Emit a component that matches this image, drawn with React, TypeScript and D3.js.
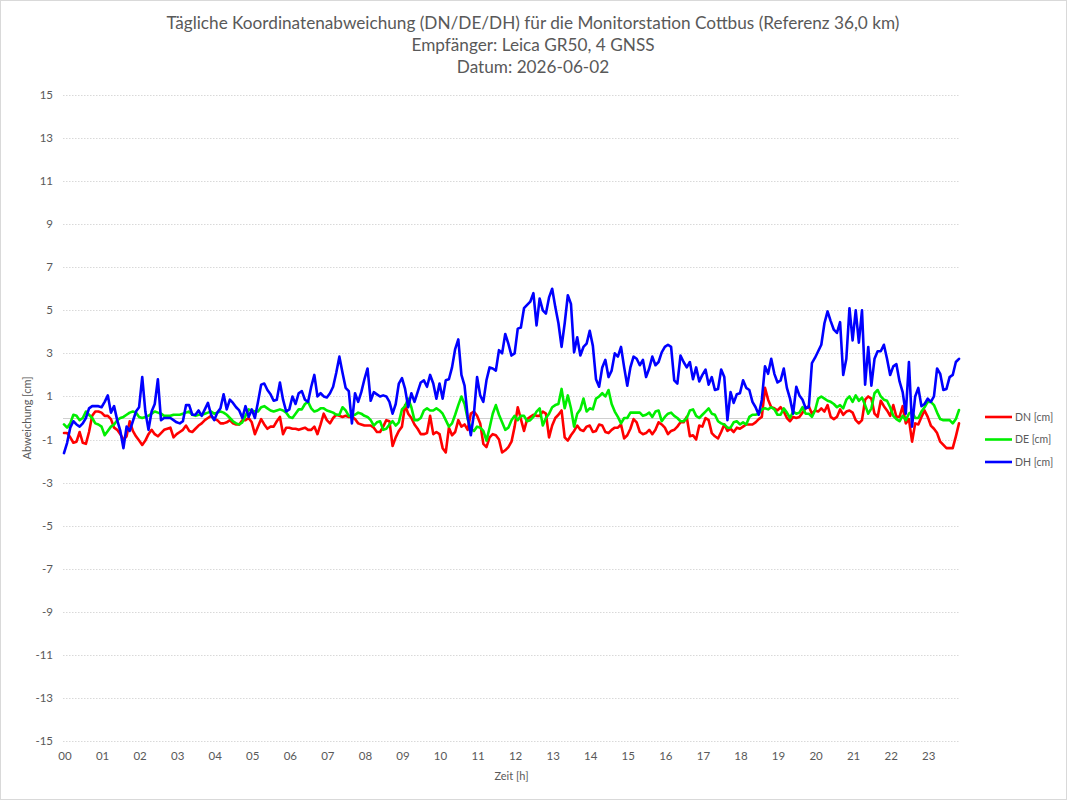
import * as d3 from 'd3';

const WIDTH = 1068;
const HEIGHT = 801;
const PLOT = { left: 64, right: 959, top: 95, bottom: 741 };
const FONT = "Lato, 'Open Sans', sans-serif";
const TEXT_COLOR = '#595959';
const GRID_COLOR = '#d9d9d9';

const TITLE_LINES = [
  'Tägliche Koordinatenabweichung (DN/DE/DH) für die Monitorstation Cottbus (Referenz 36,0 km)',
  'Empfänger: Leica GR50, 4 GNSS',
  'Datum: 2026-06-02',
];

const HOUR_LABELS = [
  '00', '01', '02', '03', '04', '05', '06', '07', '08', '09', '10', '11',
  '12', '13', '14', '15', '16', '17', '18', '19', '20', '21', '22', '23',
];
const Y_TICKS = [15, 13, 11, 9, 7, 5, 3, 1, -1, -3, -5, -7, -9, -11, -13, -15];

// one sample every 5 minutes, starting 00:00
const STEP_MIN = 5;

const DN = [
  -0.7, -0.7, -0.9, -1.15, -1.1, -0.65, -1.15, -1.2, -0.65, 0.1,
  0.3, 0.3, 0.25, 0.1, 0.1, -0.05, -0.45, -0.55, -0.75, -1.0,
  -0.85, -0.15, -0.6, -0.85, -1.05, -1.25, -1.05, -0.75, -0.55, -0.75,
  -0.85, -0.7, -0.55, -0.5, -0.45, -0.9, -0.75, -0.65, -0.55, -0.35,
  -0.6, -0.65, -0.5, -0.35, -0.25, -0.1, 0.0, 0.1, -0.05, -0.1,
  -0.25, -0.25, -0.2, -0.1, -0.25, -0.3, -0.3, -0.1, -0.1, 0.0,
  -0.2, -0.75, -0.4, -0.05, -0.3, -0.5, -0.4, -0.4, -0.15, 0.05,
  -0.75, -0.45, -0.45, -0.5, -0.5, -0.55, -0.5, -0.45, -0.55, -0.55,
  -0.4, -0.75, -0.3, 0.2, -0.1, -0.25, 0.0, 0.15, 0.1, 0.05,
  0.1, 0.05, 0.05, -0.05, -0.25, -0.3, -0.35, -0.35, -0.35, -0.45,
  -0.65, -0.65, -0.4, -0.1, -0.15, -1.3, -0.9, -0.6, -0.4, 0.6,
  0.2, 0.0, -0.3, -0.5, -0.75, -0.75, -0.7, 0.1, -0.75, -0.65,
  -0.75, -1.4, -1.6, -0.45, -0.8, -0.65, -0.1, -0.4, -0.3, -0.55,
  0.2, 0.3, 0.1, -0.25, -1.2, -1.35, -0.9, -0.75, -0.8, -1.0,
  -1.6, -1.5, -1.35, -1.1, -0.4, 0.5, -0.05, -0.6, -0.05, 0.05,
  0.15, 0.1, 0.1, 0.3, 0.2, -0.9, -0.35, 0.0, 0.15, 0.35,
  -0.9, -1.05, -0.8, -0.6, -0.35, -0.55, -0.6, -0.4, -0.35, -0.65,
  -0.6, -0.3, -0.35, -0.65, -0.7, -0.55, -0.45, -0.45, -0.3, -0.95,
  -0.8, -0.5, -0.05, -0.2, -0.65, -0.75, -0.7, -0.55, -0.75, -0.55,
  -0.2, -0.3, -0.45, -0.75, -0.6, -0.55, -0.4, -0.2, -0.2, 0.05,
  -0.85, -0.8, -1.0, -0.35, -0.4, 0.0, -0.1, -0.7, -0.85, -0.95,
  -0.65, -0.3, -0.6, -0.5, -0.65, -0.45, -0.5, -0.4, -0.3, -0.3,
  -0.3, -0.2, -0.05, 0.05, 1.4, 0.85, 0.5, 0.45, 0.35, 0.5,
  0.3, 0.0, -0.15, 0.05, 0.0, 0.05, 0.25, 0.45, 0.55, 0.2,
  0.35, 0.3, 0.45, 0.3, 0.6, 0.05, -0.05, 0.05, 0.4, 0.15,
  0.3, 0.35, 0.25, -0.1, -0.25, -0.1, 0.85, 1.0, 0.9, 0.2,
  0.05, 0.8, 0.55, 0.35, 0.1, 0.6, 0.05, 0.05, 0.55, -0.25,
  -0.05, -1.1, -0.25, -0.3, 0.05, 0.35, 0.05, -0.35, -0.5, -0.7,
  -1.1, -1.25, -1.4, -1.4, -1.4, -0.85, -0.25,
];

const DE = [
  -0.3, -0.45, -0.25, 0.15, 0.1, -0.1, 0.0, 0.3, 0.15, 0.0,
  -0.25, -0.3, -0.4, -0.8, -0.6, -0.4, -0.3, -0.1, 0.0, 0.05,
  0.15, 0.25, 0.3, 0.25, 0.05, 0.0, 0.05, 0.1, 0.2, 0.3,
  0.25, 0.2, 0.1, 0.1, 0.1, 0.15, 0.15, 0.15, 0.2, 0.25,
  0.3, 0.15, 0.1, 0.15, 0.15, 0.2, 0.25, 0.3, 0.2, 0.25,
  0.3, 0.25, 0.15, 0.0, -0.15, -0.25, -0.3, -0.2, 0.1, 0.4,
  0.35, 0.3, 0.3, 0.5, 0.55, 0.45, 0.35, 0.3, 0.35, 0.4,
  0.35, 0.25, 0.05, 0.0, 0.2, 0.4, 0.4, 0.65, 0.75, 0.45,
  0.3, 0.35, 0.45, 0.45, 0.35, 0.3, 0.25, 0.15, 0.15, 0.5,
  0.35, 0.1, 0.1, 0.15, 0.25, 0.2, 0.1, 0.05, -0.1, -0.35,
  -0.2, -0.15, -0.55, -0.5, -0.3, -0.15, -0.35, -0.2, 0.4, 0.55,
  0.9, 0.5, -0.1, -0.1, 0.0, 0.35, 0.45, 0.35, 0.35, 0.45,
  0.35, 0.2, -0.1, -0.4, -0.25, 0.15, 0.6, 1.0, 0.65, -0.05,
  -0.5, -0.6, -0.4, -0.45, -0.6, -1.05, -0.45, 0.2, 0.6, 0.15,
  -0.2, -0.55, -0.45, -0.1, 0.1, -0.1, 0.1, 0.1, -0.15, -0.1,
  0.05, 0.3, 0.45, -0.35, 0.0, 0.2, 0.5, 0.6, 0.65, 1.35,
  0.45, 1.05, 0.45, -0.4, 0.2, 0.4, 0.9, 0.3, 0.45, 0.4,
  0.9, 1.0, 1.15, 1.0, 1.3, 0.65, 0.3, 0.05, -0.25, 0.0,
  0.0, 0.25, 0.25, 0.25, 0.25, 0.1, 0.15, 0.25, 0.05, 0.3,
  0.35, -0.15, 0.05, 0.2, 0.25, 0.1, 0.0, -0.15, -0.15, 0.0,
  0.35, 0.4, 0.1, 0.0, 0.15, 0.3, 0.45, 0.2, 0.15, -0.15,
  -0.25, -0.3, -0.45, -0.45, -0.2, -0.15, -0.3, -0.2, -0.3, 0.05,
  0.15, 0.15, 0.2, 0.4, 0.45, 0.4, 0.5, 0.4, 0.15, 0.15,
  0.45, 0.25, 0.0, 0.3, 0.2, 0.25, 0.5, 0.2, 0.2, 0.05,
  0.35, 0.9, 1.0, 0.9, 0.8, 0.75, 0.65, 0.5, 0.6, 0.45,
  0.85, 1.0, 0.75, 1.05, 0.8, 0.95, 0.6, 0.2, 0.45, 1.15,
  1.3, 1.0, 0.85, 0.8, 0.5, 0.1, -0.05, -0.15, 0.1, -0.1,
  0.2, 0.3, 0.0, 0.0, 0.3, 0.5, 0.75, 0.75, 0.6, 0.25,
  -0.05, -0.1, -0.1, -0.1, -0.25, -0.05, 0.37,
];

const DH = [
  -1.63, -1.15, -0.45, -0.15, -0.3, -0.4, -0.25, 0.0, 0.45, 0.55,
  0.55, 0.55, 0.5, 0.75, 1.05, 0.25, 0.55, -0.1, -0.6, -1.4,
  -0.4, -0.6, -0.15, 0.3, 0.5, 1.9, 0.3, -0.55, 0.3, 0.65,
  1.8, -0.1, 0.0, 0.0, 0.0, -0.1, -0.2, -0.25, -0.15, 0.6,
  0.6, 0.15, 0.15, 0.35, 0.1, 0.4, 0.7, 0.15, -0.1, 0.25,
  0.45, 1.1, 0.4, 0.85, 0.7, 0.5, 0.35, 0.0, 0.55, 0.05,
  0.4, 0.0, 0.75, 1.55, 1.6, 1.3, 1.1, 0.8, 0.85, 1.65,
  0.85, 0.3, 0.4, 1.0, 0.65, 1.15, 1.25, 0.85, 0.75, 1.45,
  2.0, 1.0, 1.15, 1.0, 0.95, 1.15, 1.45, 2.1, 2.85, 2.1,
  1.4, 1.25, -0.25, 1.15, 0.75, 1.2, 1.8, 2.3, 0.8, 1.2,
  1.1, 1.0, 1.05, 1.0, 0.75, 0.2, 0.65, 1.6, 1.85, 1.35,
  0.5, 1.15, 0.75, 1.2, 1.65, 1.75, 1.45, 2.0, 1.6, 0.9,
  1.6, 0.9, 1.75, 1.8, 2.35, 3.2, 3.65, 2.0, 1.5, 0.05,
  -0.8, 0.2, 1.9, 1.05, 0.75, 1.75, 2.35, 2.3, 2.2, 3.15,
  3.0, 3.9, 3.45, 2.9, 3.0, 4.15, 4.2, 5.1, 5.25, 5.4,
  5.8, 4.3, 5.55, 5.0, 4.85, 5.6, 6.0, 5.15, 4.4, 3.3,
  4.4, 5.7, 5.3, 3.05, 3.75, 2.9, 3.3, 3.45, 4.05, 3.35,
  1.8, 1.45, 2.35, 2.7, 1.9, 2.2, 3.0, 2.85, 3.3, 2.35,
  1.5, 2.35, 2.85, 2.75, 2.45, 2.7, 1.9, 2.3, 2.85, 2.45,
  2.6, 3.05, 3.3, 3.4, 3.3, 1.75, 1.6, 2.9, 2.6, 2.35,
  2.6, 1.8, 2.35, 1.7, 2.0, 2.25, 1.55, 1.9, 1.3, 1.35,
  2.25, 1.9, -0.1, 1.2, 0.7, 1.1, 1.15, 1.75, 1.4, 1.3,
  0.75, 0.5, 0.15, 0.85, 2.4, 2.05, 2.75, 2.05, 1.65, 1.75,
  2.3, 1.4, 0.9, 0.2, 1.45, 1.05, 0.85, 0.45, 0.5, 2.55,
  2.8, 3.1, 3.4, 4.4, 4.95, 4.5, 4.1, 3.95, 4.45, 2.0,
  2.75, 5.1, 3.6, 5.0, 3.5, 5.0, 1.55, 3.3, 1.5, 2.75,
  3.1, 3.1, 3.4, 2.75, 2.0, 2.4, 2.5, 1.7, 1.2, 0.2,
  2.6, -0.4, 1.0, 1.4, 0.55, 0.65, 0.9, 0.75, 1.0, 2.3,
  2.05, 1.3, 1.35, 1.9, 2.0, 2.6, 2.75,
];

const SERIES = [
  { name: 'DN [cm]', values: DN, color: '#ff0000' },
  { name: 'DE [cm]', values: DE, color: '#00ee00' },
  { name: 'DH [cm]', values: DH, color: '#0000ff' },
];

export default function App() {
  const lastHour = ((DH.length - 1) * STEP_MIN) / 60;
  const x = d3.scaleLinear().domain([0, lastHour]).range([PLOT.left, PLOT.right]);
  const y = d3.scaleLinear().domain([-15, 15]).range([PLOT.bottom, PLOT.top]);

  const line = d3
    .line<number>()
    .x((_, i) => x((i * STEP_MIN) / 60))
    .y((d) => y(d));

  const zeroY = Math.round(y(0)) + 0.5;

  return (
    <div style={{ position: 'absolute', left: 0, top: 0 }}>
      <svg width={WIDTH} height={HEIGHT} style={{ display: 'block', fontFamily: FONT }}>
        <rect x={0} y={0} width={WIDTH} height={HEIGHT} fill="#fff" />
        <rect x={0.5} y={0.5} width={1066} height={799} fill="none" stroke={GRID_COLOR} />

        {/* Title */}
        {TITLE_LINES.map((t, i) => (
          <text key={t} x={533} y={28.5 + i * 22.4} textAnchor="middle" fontSize={17.2} fill={TEXT_COLOR}>
            {t}
          </text>
        ))}

        {/* Horizontal grid, zero line solid */}
        {Y_TICKS.map((v) => (
          <line
            key={v}
            x1={PLOT.left - 1}
            x2={PLOT.right}
            y1={Math.round(y(v)) + 0.5}
            y2={Math.round(y(v)) + 0.5}
            stroke={GRID_COLOR}
            strokeDasharray="1.5,1.5"
          />
        ))}
        <line x1={PLOT.left - 1} x2={PLOT.right} y1={zeroY} y2={zeroY} stroke="#d0d0d0" />

        {/* Y tick labels */}
        {Y_TICKS.map((v) => (
          <text key={v} x={53} y={y(v)} dy="0.35em" textAnchor="end" fontSize={11.5} fill={TEXT_COLOR}>
            {v}
          </text>
        ))}

        {/* X tick labels */}
        {HOUR_LABELS.map((h, i) => (
          <text key={h} x={x(i) + 1} y={760} textAnchor="middle" fontSize={11.5} fill={TEXT_COLOR}>
            {h}
          </text>
        ))}

        {/* Axis titles */}
        <text x={(PLOT.left + PLOT.right) / 2} y={780} textAnchor="middle" fontSize={11} fill={TEXT_COLOR}>
          Zeit [h]
        </text>
        <text
          transform={`translate(31,${(PLOT.top + PLOT.bottom) / 2}) rotate(-90)`}
          textAnchor="middle"
          fontSize={11}
          fill={TEXT_COLOR}
        >
          Abweichung [cm]
        </text>

        {/* Series: DN, DE, then DH on top */}
        {SERIES.map((s) => (
          <path
            key={s.name}
            d={line(s.values) ?? ''}
            fill="none"
            stroke={s.color}
            strokeWidth={2.6}
            strokeLinejoin="round"
            strokeLinecap="round"
          />
        ))}

        {/* Legend */}
        {SERIES.map((s, i) => {
          const ly = 417 + i * 22.5;
          return (
            <g key={s.name}>
              <line x1={985} x2={1012} y1={ly} y2={ly} stroke={s.color} strokeWidth={2.6} />
              <text x={1015} y={ly} dy="0.35em" fontSize={10.5} fill={TEXT_COLOR}>
                {s.name}
              </text>
            </g>
          );
        })}
      </svg>
    </div>
  );
}
